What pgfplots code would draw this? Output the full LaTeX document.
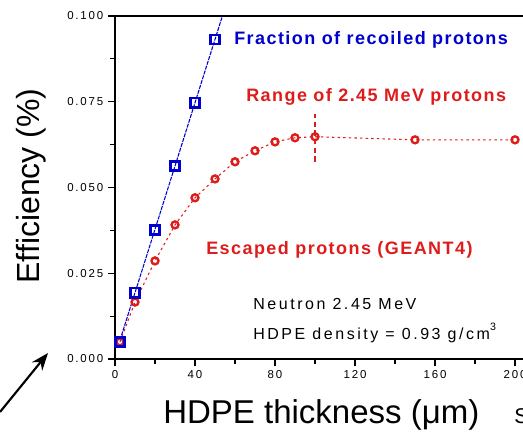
\documentclass[border=0pt]{standalone}
\usepackage{pgfplots}
\pgfplotsset{compat=1.18}
\usepackage{fontspec}
\setmainfont{Liberation Sans}
\newfontfamily\tickfont[LetterSpace=16]{Liberation Sans}
\newfontfamily\notefont[LetterSpace=16]{Liberation Sans}
\newfontfamily\annfont[LetterSpace=8]{Liberation Sans}
\usetikzlibrary{arrows.meta}

\definecolor{fitblue}{RGB}{0,0,205}
\definecolor{geantred}{RGB}{222,28,28}

% Escaped protons (GEANT4): thickness in um, efficiency in %
\pgfplotstableread{
x    y
2.5  0.0050
10   0.0166
20   0.0286
30   0.0391
40   0.0470
50   0.0525
60   0.0575
70   0.0607
80   0.0633
90   0.0645
100  0.0648
150  0.0639
200  0.0639
}\escaped

% Fraction of recoiled protons
\pgfplotstableread{
x    y
2.5  0.0050
10   0.0193
20   0.0376
30   0.0563
40   0.0747
50   0.0931
}\recoiled

\begin{document}
\begin{tikzpicture}[x=0.75pt,y=0.75pt]
\useasboundingbox (0,0) rectangle (523,434);
\begin{axis}[
  at={(86.25pt,56.25pt)}, anchor=south west,
  scale only axis, width=306pt, height=257.25pt,
  xmin=0, xmax=204, ymin=0, ymax=0.1,
  axis x line*=box, axis y line*=left,
  axis line style={black, line width=1.2pt},
  xtick={0,40,80,120,160,200},
  minor xtick={20,60,100,140,180},
  ytick={0,0.025,0.05,0.075,0.1},
  minor ytick={0.0125,0.0375,0.0625,0.0875},
  xtick pos=left, ytick pos=left,
  tick align=outside,
  major tick length=5.25pt, minor tick length=3.5pt,
  every tick/.style={black, line width=0.9pt},
  scaled y ticks=false,
  /pgf/number format/assume math mode=true,
  yticklabel style={/pgf/number format/.cd, fixed, fixed zerofill, precision=3},
  ticklabel style={font=\tickfont\fontsize{8.6}{10}\selectfont},
  clip=false,
]
% range marker at 100 um
\addplot[geantred, line width=1.6pt, dash pattern=on 4pt off 2.5pt] coordinates {(100,0.0575) (100,0.0715)};
% escaped protons
\addplot[geantred, line width=0.8pt, dash pattern=on 1.8pt off 2.4pt] table[x=x,y=y] {\escaped};
\addplot[only marks, mark=o, mark size=2.6pt, geantred, mark options={line width=1.8pt}] table[x=x,y=y] {\escaped};
% recoiled protons, linear trend
\addplot[fitblue, line width=0.8pt, dash pattern=on 3pt off 0.8pt] coordinates {(2.5,0.0055) (53.7,0.1)};
\addplot[only marks, mark=square, mark size=3.4pt, fitblue, mark options={line width=1.8pt}] table[x=x,y=y] {\recoiled};
\end{axis}

% annotations
\node[anchor=base west, text=fitblue, font=\annfont\bfseries\fontsize{13.5}{16}\selectfont, inner sep=0pt] at (234,389) {Fraction of recoiled protons};
\node[anchor=base west, text=geantred, font=\annfont\bfseries\fontsize{13.5}{16}\selectfont, inner sep=0pt] at (246,332) {Range of 2.45 MeV protons};
\node[anchor=base west, text=geantred, font=\annfont\bfseries\fontsize{13.5}{16}\selectfont, inner sep=0pt] at (206,179) {Escaped protons (GEANT4)};
\node[anchor=base west, font=\notefont\fontsize{12}{14}\selectfont, inner sep=0pt] at (253,124) {Neutron 2.45 MeV};
\node[anchor=base west, font=\notefont\fontsize{12}{14}\selectfont, inner sep=0pt] at (253,94) {HDPE density = 0.93 g/cm\raisebox{1.1ex}{\fontsize{8}{9}\selectfont 3}};

% axis titles
\node[rotate=90, font=\fontsize{24}{28}\selectfont, inner sep=0pt] at (31,248) {Efficiency (\%)};
\node[anchor=base west, font=\fontsize{24.75}{28}\selectfont, inner sep=0pt] at (163,10) {HDPE thickness (μm)};
\node[anchor=base west, font=\fontsize{16}{18}\selectfont, inner sep=0pt] at (514,10) {S};

% pointer
\draw[line width=1.6pt, -{Stealth[length=13pt, width=10pt]}] (0,22) -- (48,81);
\end{tikzpicture}
\end{document}
